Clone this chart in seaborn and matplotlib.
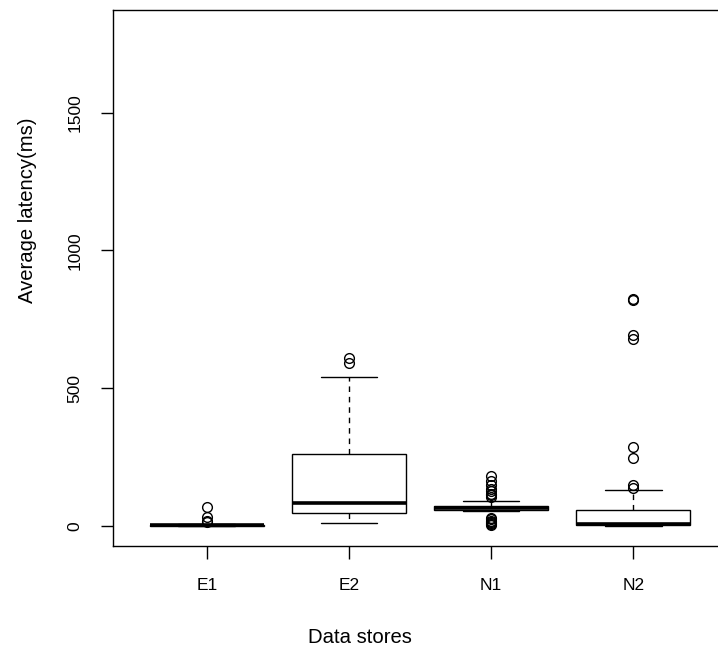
import matplotlib
matplotlib.use("Agg")
import matplotlib.pyplot as plt
import pandas as pd
import seaborn as sns

# average latency samples (ms) per data store
stores = ["E1", "E2", "N1", "N2"]
e1 = [0, 0, 1, 1, 1, 1, 2, 2, 2, 3, 3, 3, 4, 4, 4, 5, 9, 14, 20, 33, 70]
e2 = [10, 22, 30, 38, 44, 47, 55, 63, 70, 76, 84, 95, 120, 160, 210, 260,
      300, 400, 542, 590, 610]
n1 = [4, 8, 12, 16, 20, 25, 29, 54, 55, 56, 57,
      59, 60, 61, 62, 62, 63, 63, 64, 64, 65,
      66, 67, 68, 69, 70, 70, 71, 72, 72, 73,
      80, 91, 104, 112, 118, 127, 134, 150, 164, 182]
n2 = [0, 0, 1, 1, 2, 2, 2, 3, 3, 3, 3,
      4, 5, 5, 6, 6, 7, 7, 8, 8, 9,
      12, 14, 17, 20, 25, 30, 38, 45, 52, 57,
      90, 131, 140, 150, 246, 288, 680, 692, 819, 823]

df = pd.DataFrame({
    "store": sum([[s] * len(v) for s, v in zip(stores, [e1, e2, n1, n2])], []),
    "latency": e1 + e2 + n1 + n2,
})

sns.set_style("ticks")
plt.rcParams["font.family"] = ["Liberation Sans", "DejaVu Sans"]

fig = plt.figure(figsize=(7.18, 6.52), dpi=100)
# plot region runs a little past the right edge of the picture, as in the original
ax = fig.add_axes([113 / 718, 1 - 546 / 652, (727 - 113) / 718, (546 - 10) / 652])

sns.boxplot(data=df, x="store", y="latency", order=stores, ax=ax,
            color="white", linecolor="black", linewidth=1.0, width=0.8,
            whis=1.5,
            medianprops=dict(color="black", linewidth=2.6, solid_capstyle="butt"),
            whiskerprops=dict(color="black", linewidth=1.0, linestyle=(0, (4, 3.5))),
            capprops=dict(color="black", linewidth=1.0),
            boxprops=dict(facecolor="white", edgecolor="black", linewidth=1.0),
            flierprops=dict(marker="o", markerfacecolor="none",
                            markeredgecolor="black", markersize=7,
                            markeredgewidth=1.0))

ax.set_xlim(-0.66, 3.66)
ax.set_ylim(-72, 1872)
ax.set_yticks([0, 500, 1000, 1500])
ax.set_yticklabels(["0", "500", "1000", "1500"], rotation=90, va="center")

for s in ax.spines.values():
    s.set_color("black")
    s.set_linewidth(1.0)

ax.tick_params(axis="both", direction="out", length=9, width=1.0,
               colors="black", labelsize=12.5)
ax.tick_params(axis="y", pad=13)
ax.tick_params(axis="x", pad=14)

ax.set_xlabel("Data stores", fontsize=14.6, va="center", color="black")
ax.set_ylabel("Average latency(ms)", fontsize=14.6, va="center", color="black")
ax.xaxis.set_label_coords(0.402, -0.170)
ax.yaxis.set_label_coords(-0.140, 0.627)

fig.savefig("out.png", dpi=100)
